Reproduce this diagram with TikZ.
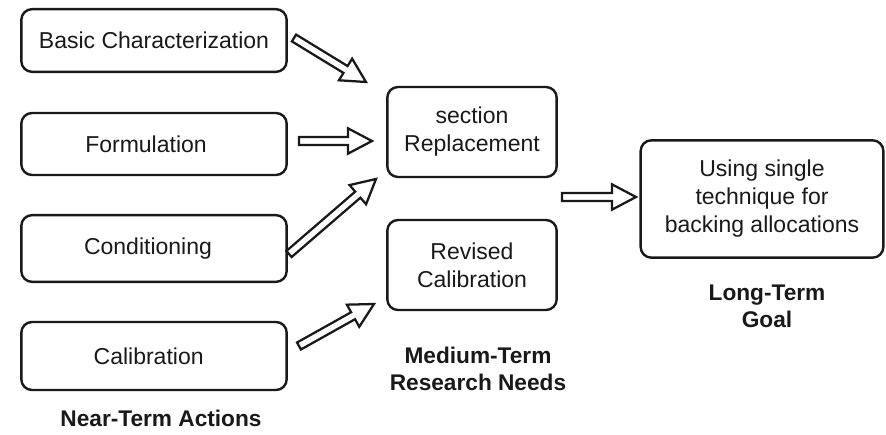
\documentclass[tikz,border=0pt]{standalone}
\usepackage{fontspec}
\setmainfont{Liberation Sans}
\usetikzlibrary{calc}

\tikzset{
  box/.style={draw=black!90, line width=1.8pt, rounded corners=8pt, align=center,
    inner sep=0pt, font=\fontsize{17.25}{21}\selectfont, text=black!90},
  label/.style={align=center, inner sep=0pt, font=\bfseries\fontsize{17}{20.5}\selectfont, text=black!90},
  blockarrow/.style={draw=black!90, line width=1.7pt, fill=white, line join=miter},
}

% hollow block arrow from coordinate #1 to coordinate #2
\newcommand\blockarrow[2]{%
  \coordinate (hb) at ($(#2)!18pt!(#1)$);
  \draw[blockarrow]
    ($(#1)!3pt!90:(#2)$) -- ($(hb)!3pt!90:(#2)$) -- ($(hb)!9.5pt!90:(#2)$) --
    (#2) --
    ($(hb)!9.5pt!-90:(#2)$) -- ($(hb)!3pt!-90:(#2)$) -- ($(#1)!3pt!-90:(#2)$) -- cycle;
}

\begin{document}
\begin{tikzpicture}[x=0.75pt, y=-0.75pt]
  \useasboundingbox (0,0) rectangle (886,435);

  % near-term actions
  \node[box, minimum width=199pt, minimum height=47pt] (basic) at (154,40.5) {Basic Characterization};
  \node[box, minimum width=199pt, minimum height=46.5pt] (form) at (154,144) {\kern-12pt Formulation};
  \node[box, minimum width=199pt, minimum height=50pt] (cond) at (154,248.5) {\kern-9pt Conditioning};
  \node[box, minimum width=199pt, minimum height=51pt] (calib) at (154,356) {\kern-8pt Calibration};

  % medium-term research needs
  \node[box, minimum width=127pt, minimum height=67.5pt] (sect) at (472,132) {section\\Replacement};
  \node[box, minimum width=127pt, minimum height=67.5pt] (rev) at (472,265) {Revised\\Calibration};

  % long-term goal
  \node[box, minimum width=182pt, minimum height=88pt] (goal) at (762,199) {Using single\\technique for\\backing allocations};

  % column labels
  \node[label] (lnear) at (161,418) {Near-Term Actions};
  \node[label] (lmed) at (478,369) {Medium-Term\\Research Needs};
  \node[label] (llong) at (767,306) {Long-Term\\Goal};

  % arrow end points
  \coordinate (a1s) at (294,38);  \coordinate (a1e) at (366,82);
  \coordinate (a2s) at (299,141); \coordinate (a2e) at (372,141);
  \coordinate (a3s) at (289,254); \coordinate (a3e) at (376,179);
  \coordinate (a4s) at (299,346); \coordinate (a4e) at (374,304);
  \coordinate (a5s) at (562,197); \coordinate (a5e) at (636,197);

  \blockarrow{a1s}{a1e}
  \blockarrow{a2s}{a2e}
  \blockarrow{a3s}{a3e}
  \blockarrow{a4s}{a4e}
  \blockarrow{a5s}{a5e}
\end{tikzpicture}
\end{document}
